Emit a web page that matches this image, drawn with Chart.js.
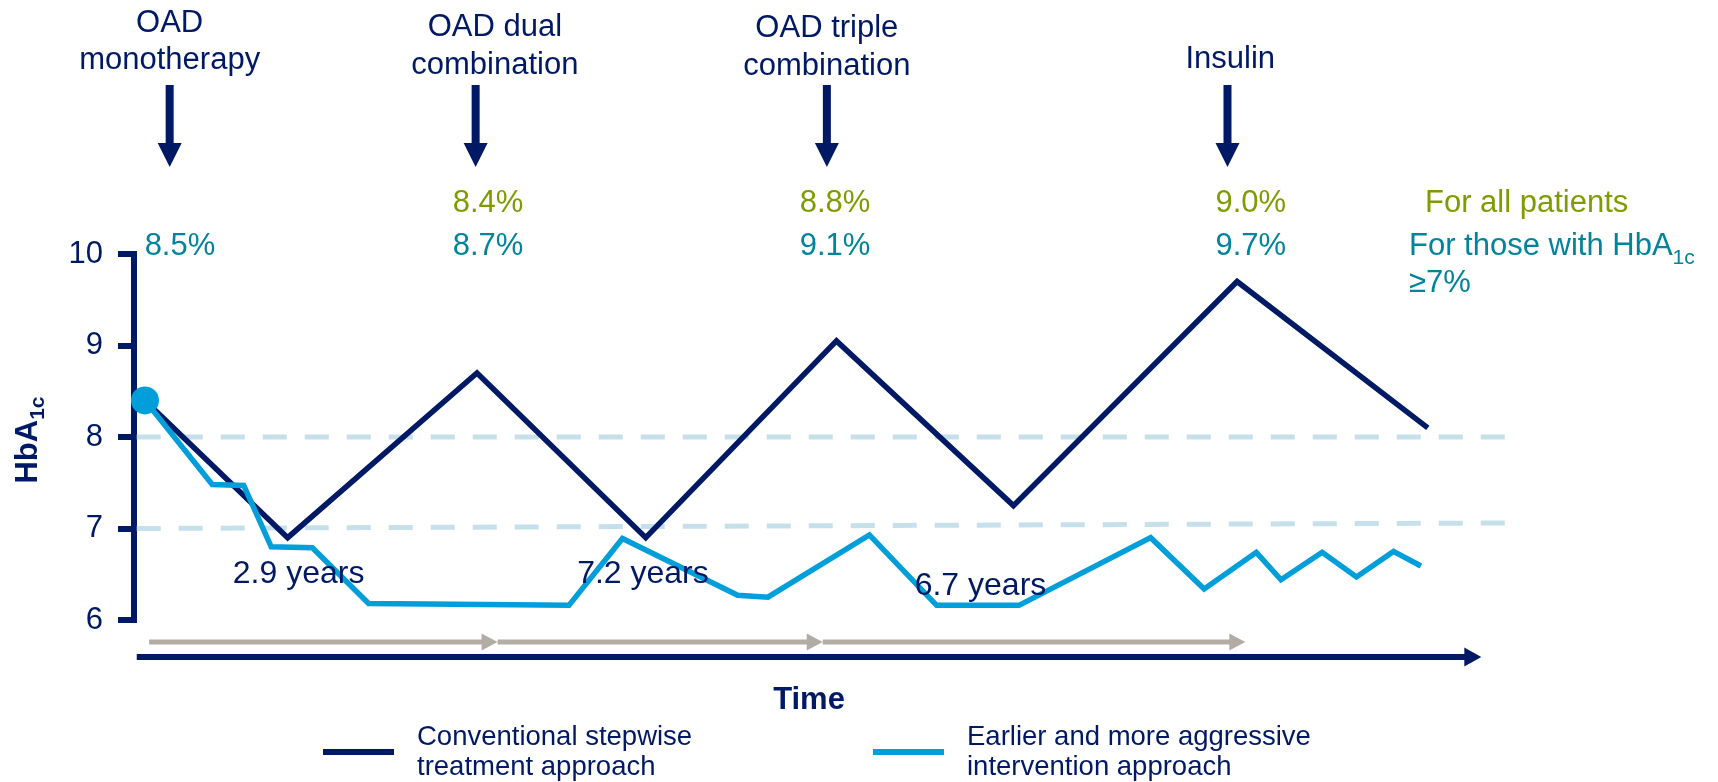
<!DOCTYPE html>
<html>
<head>
<meta charset="utf-8">
<title>HbA1c over time</title>
<script src="https://cdn.jsdelivr.net/npm/chart.js@4.4.0/dist/chart.umd.min.js"></script>
<style>
  html, body { margin: 0; padding: 0; background: #fff; }
</style>
</head>
<body>
<canvas id="chart" width="1718" height="782"></canvas>
<script>
// time is in arbitrary units (0 = y axis, 100 = end of the dashed target lines)
const convTime = [0.8, 11.2, 25.0, 37.3, 51.2, 64.1, 80.4, 94.3];
const convHbA1c = [8.4, 6.9, 8.7, 6.9, 9.05, 7.25, 9.7, 8.1];

const earlyTime = [0.8, 5.7, 8.0, 10.0, 13.0, 17.1, 31.7, 35.6, 44.0, 46.2, 53.6,
                   58.5, 64.5, 74.1, 78.0, 81.8, 83.6, 86.6, 89.1, 91.8, 93.8];
const earlyHbA1c = [8.4, 7.48, 7.47, 6.8, 6.79, 6.18, 6.16, 6.89, 6.27, 6.25, 6.93,
                    6.16, 6.16, 6.9, 6.34, 6.74, 6.44, 6.74, 6.47, 6.75, 6.59];

const targetStart = [8, 7];
const targetEnd = [8, 7.06];
const yTicks = [6, 7, 8, 9, 10];

const stepLabels = [['OAD', 'monotherapy'], ['OAD dual', 'combination'], ['OAD triple', 'combination'], ['Insulin']];
const stepTimes = [2.6, 24.9, 50.5, 79.7];
const allPatients = ['', '8.4%', '8.8%', '9.0%'];
const above7 = ['8.5%', '8.7%', '9.1%', '9.7%'];
const intervalLabels = ['2.9 years', '7.2 years', '6.7 years'];
const intervalBreaks = [1.1, 26.5, 50.2, 81.0];

const seriesNames = [['Conventional stepwise', 'treatment approach'], ['Earlier and more aggressive', 'intervention approach']];

const navy = '#001965';
const lightBlue = '#009fda';
const dashBlue = '#c5dfeb';
const grey = '#b2aca5';
const green = '#7e9c00';
const teal = '#00849b';
const FONT = '"Liberation Sans", Arial, sans-serif';

// layout of the annotations (x in time units, y in pixels)
const stepLabelX = [2.6, 26.3, 50.5, 79.9];
const stepLabelY = [[32, 69], [36, 74], [37, 75], [68]];
const pctX = [3.35, 25.8, 51.1, 81.4];
const yearX = [7.2, 32.3, 56.9];
const yearY = [583, 583, 595];

const pts = (xs, ys) => xs.map((x, i) => ({ x: x, y: ys[i] }));

const extras = {
  id: 'extras',
  afterDraw(chart) {
    const c = chart.ctx;
    const xs = chart.scales.x;
    const area = chart.chartArea;
    const px = v => xs.getPixelForValue(v);
    c.save();

    // step labels and arrows
    c.textAlign = 'center';
    c.textBaseline = 'alphabetic';
    c.font = '31px ' + FONT;
    c.fillStyle = navy;
    stepLabels.forEach((lines, i) => {
      lines.forEach((t, j) => c.fillText(t, px(stepLabelX[i]), stepLabelY[i][j]));
      const ax = px(stepTimes[i]);
      c.fillRect(ax - 4, 85, 8, 60);
      c.beginPath();
      c.moveTo(ax - 12, 143);
      c.lineTo(ax + 12, 143);
      c.lineTo(ax, 167);
      c.closePath();
      c.fill();
    });

    // HbA1c at each step
    allPatients.forEach((t, i) => {
      c.fillStyle = green;
      if (t) c.fillText(t, px(pctX[i]), 212);
      c.fillStyle = teal;
      c.fillText(above7[i], px(pctX[i]), 255);
    });
    c.textAlign = 'left';
    c.fillStyle = green;
    c.fillText('For all patients', 1425, 212);
    c.fillStyle = teal;
    c.fillText('For those with HbA', 1409, 255);
    const w = c.measureText('For those with HbA').width;
    c.font = '21px ' + FONT;
    c.fillText('1c', 1409 + w, 264);
    c.font = '31px ' + FONT;
    c.fillText('\u22657%', 1409, 292);

    // years between steps
    c.fillStyle = navy;
    c.font = '32px ' + FONT;
    intervalLabels.forEach((t, i) => c.fillText(t, px(yearX[i]), yearY[i]));

    // grey interval arrows
    const gy = area.bottom + 22;
    c.fillStyle = grey;
    for (let i = 0; i < intervalBreaks.length - 1; i++) {
      const a = px(intervalBreaks[i]), b = px(intervalBreaks[i + 1]);
      c.fillRect(a, gy - 2.5, b - a - 15, 5);
      c.beginPath();
      c.moveTo(b - 16, gy - 8.5);
      c.lineTo(b, gy);
      c.lineTo(b - 16, gy + 8.5);
      c.closePath();
      c.fill();
    }

    // time axis
    const ty = area.bottom + 37;
    const t0 = px(0.2), t1 = px(98.2);
    c.fillStyle = navy;
    c.fillRect(t0, ty - 3, t1 - t0 - 16, 6);
    c.beginPath();
    c.moveTo(t1 - 17, ty - 9.5);
    c.lineTo(t1, ty);
    c.lineTo(t1 - 17, ty + 9.5);
    c.closePath();
    c.fill();
    c.textAlign = 'center';
    c.font = 'bold 31px ' + FONT;
    c.fillText('Time', (t0 + t1) / 2, 709);

    // y axis title
    c.save();
    c.translate(37, 440);
    c.rotate(-Math.PI / 2);
    c.textAlign = 'left';
    c.font = 'bold 31px ' + FONT;
    const w1 = c.measureText('HbA').width;
    c.font = 'bold 21px ' + FONT;
    const w2 = c.measureText('1c').width;
    c.fillText('1c', (w1 - w2) / 2, 7);
    c.font = 'bold 31px ' + FONT;
    c.fillText('HbA', -(w1 + w2) / 2, 0);
    c.restore();

    // legend
    const legendX = [323, 873];
    const colors = [navy, lightBlue];
    c.font = '27.5px ' + FONT;
    c.textAlign = 'left';
    seriesNames.forEach((lines, i) => {
      c.fillStyle = colors[i];
      c.fillRect(legendX[i], 749, 71, 6);
      c.fillStyle = navy;
      lines.forEach((t, j) => c.fillText(t, legendX[i] + 94, 745 + j * 30));
    });

    c.restore();
  }
};

new Chart(document.getElementById('chart'), {
  type: 'line',
  data: {
    datasets: [
      {
        data: pts(earlyTime, earlyHbA1c),
        borderColor: lightBlue,
        borderWidth: 5.5,
        borderJoinStyle: 'miter',
        pointRadius: ctx => ctx.dataIndex === 0 ? 14 : 0,
        pointBackgroundColor: lightBlue,
        pointBorderWidth: 0,
        clip: false,
        order: 0
      },
      {
        data: pts(convTime, convHbA1c),
        borderColor: navy,
        borderWidth: 5.5,
        borderJoinStyle: 'miter',
        pointRadius: 0,
        order: 1
      },
      {
        data: [{ x: 0.2, y: targetStart[0] }, { x: 100, y: targetEnd[0] }],
        borderColor: dashBlue,
        borderWidth: 5,
        borderDash: [24, 18],
        pointRadius: 0,
        order: 2
      },
      {
        data: [{ x: 0.2, y: targetStart[1] }, { x: 100, y: targetEnd[1] }],
        borderColor: dashBlue,
        borderWidth: 5,
        borderDash: [24, 18],
        pointRadius: 0,
        order: 3
      }
    ]
  },
  options: {
    responsive: false,
    animation: false,
    layout: { padding: { top: 254, bottom: 162, right: 212, left: 0 } },
    plugins: { legend: { display: false }, tooltip: { enabled: false } },
    scales: {
      x: { type: 'linear', min: 0, max: 100, display: false },
      y: {
        type: 'linear',
        min: 6,
        max: 10,
        afterFit: s => { s.width = 134; },
        afterBuildTicks: s => { s.ticks = yTicks.map(v => ({ value: v })); },
        ticks: { color: navy, font: { size: 31, family: FONT }, padding: 15 },
        grid: { drawOnChartArea: false, drawTicks: true, tickLength: 16, tickWidth: 6, tickColor: navy, lineWidth: 6, color: navy },
        border: { display: true, width: 6, color: navy }
      }
    }
  },
  plugins: [extras]
});
</script>
</body>
</html>
